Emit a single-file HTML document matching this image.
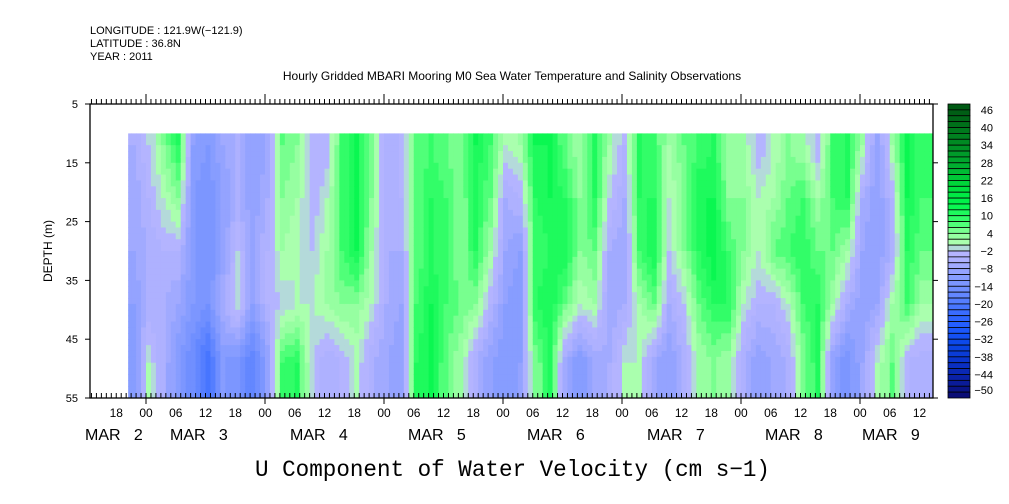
<!DOCTYPE html>
<html><head><meta charset="utf-8"><style>
body{margin:0;background:#fff;}
svg{display:block;font-family:"Liberation Sans",sans-serif;}
</style></head><body>
<svg id="chart" width="1009" height="504" viewBox="0 0 1009 504" xmlns="http://www.w3.org/2000/svg">
<g font-size="11" fill="#000">
<text x="90" y="34">LONGITUDE : 121.9W(−121.9)</text>
<text x="90" y="47">LATITUDE : 36.8N</text>
<text x="90" y="60">YEAR : 2011</text>
</g>
<text x="512" y="80" font-size="12" text-anchor="middle">Hourly Gridded MBARI Mooring M0 Sea Water Temperature and Salinity Observations</text>
<g id="heat"></g>
<g id="axes"></g>
<g id="cbar"></g>
<text transform="translate(52,251) rotate(-90)" font-size="12" text-anchor="middle">DEPTH (m)</text>
<text x="255" y="476" font-family="Liberation Mono, monospace" font-size="23" textLength="515" lengthAdjust="spacingAndGlyphs">U Component of Water Velocity (cm s−1)</text>
</svg>
<script>
// Data: column centre times (hours from first 00 tick), every 3 h, and values at depth levels
const depthLevels = [12, 21, 30, 39, 49];
const colStart = -4, colStep = 3;
const values = [
[-4,-6,-6,-8,-10],[0,-2,-4,-4,2],[6,2,-2,-4,-4],[12,6,-2,-6,-10],[-8,-10,-10,-10,-14],
[-10,-12,-12,-12,-20],[-6,-8,-8,-4,-10],[-4,-4,0,2,-12],[-8,-8,-6,-8,-16],[-6,-4,-2,-2,-8],
[8,6,4,0,10],[6,4,2,2,12],[-2,-2,0,2,0],[-2,2,4,4,-4],[10,10,10,6,-2],
[14,14,14,6,2],[6,6,4,2,-4],[-4,-4,-4,-4,-6],[-2,-2,-4,-6,-8],[8,8,8,10,12],
[10,12,12,14,14],[8,10,10,10,8],[6,6,6,8,4],[14,12,12,6,-4],[10,8,4,-2,-8],
[2,-4,-6,-8,-10],[4,-2,-8,-10,-8],[14,12,10,12,6],[14,14,12,14,12],[8,12,14,8,-6],
[4,6,6,2,-10],[12,12,8,4,-6],[4,0,-4,-6,-4],[-2,-4,-6,-4,2],[12,12,10,4,2],
[10,12,14,8,-6],[4,2,0,-4,-8],[8,6,6,0,-4],[10,14,12,8,4],[12,14,16,12,6],
[4,6,10,12,4],[4,6,6,2,-4],[-2,2,2,-2,-8],[2,4,8,-2,-6],[6,8,10,2,-4],
[4,10,12,10,6],[-2,4,8,12,12],[10,10,8,4,-8],[12,12,4,-4,-12],[4,-4,-6,-8,-6],
[-8,-8,-8,-6,2],[4,-2,-4,4,8],[14,14,12,10,-2],[10,10,8,4,-4]
];
const depthTicks = [5, 15, 25, 35, 45, 55];
const cbarLabels = [46,40,34,28,22,16,10,4,-2,-8,-14,-20,-26,-32,-38,-44,-50];
const hourLabels = ["18","00","06","12"];
const dateLabels = ["MAR  2","MAR  3","MAR  4","MAR  5","MAR  6","MAR  7","MAR  8","MAR  9"];
const dateX = [85,170,290,408,527,647,765,862];

const NS="http://www.w3.org/2000/svg";
const L=90,R=933,T=104,B=398,tEnd=158.7,tStart=-3.6;
const xS=t=>146+t*119/24;
const yS=d=>T+(d-5)*(B-T)/50;
function mk(tag,attrs,parent){const e=document.createElementNS(NS,tag);for(const k in attrs)e.setAttribute(k,attrs[k]);parent.appendChild(e);return e;}
const stops=[[-50,[10,10,110]],[-44,[10,30,160]],[-38,[10,50,200]],[-32,[10,70,230]],[-26,[30,90,255]],[-20,[64,112,255]],[-14,[106,140,255]],[-8,[141,160,255]],[-2,[180,180,255]],[0,[180,180,255]],[2,[180,255,180]],[6,[140,255,154]],[10,[60,255,110]],[16,[0,245,75]],[22,[0,220,60]],[28,[0,180,50]],[34,[0,150,40]],[40,[0,125,30]],[48,[0,90,20]]];
function col(v){v=Math.max(-49,Math.min(49,v));const b=Math.floor(v/2)*2+1;let c=stops[stops.length-1][1];
 for(let i=0;i<stops.length-1;i++){if(b>=stops[i][0]&&b<=stops[i+1][0]){const f=(b-stops[i][0])/(stops[i+1][0]-stops[i][0]||1);c=stops[i][1].map((x,j)=>Math.round(x+(stops[i+1][1][j]-x)*f));break;}}
 return `rgb(${c[0]},${c[1]},${c[2]})`;}
function profile(cv,dc){
 if(dc<=depthLevels[0])return cv[0];
 if(dc>=depthLevels[depthLevels.length-1])return cv[cv.length-1];
 for(let k=0;k<depthLevels.length-1;k++){if(dc>=depthLevels[k]&&dc<=depthLevels[k+1]){const f=(dc-depthLevels[k])/(depthLevels[k+1]-depthLevels[k]);return cv[k]+(cv[k+1]-cv[k])*f;}}
 return 0;}
function valueAt(t,dc){
 const p=(t-(colStart+colStep/2))/colStep;
 let i0=Math.floor(p);let f=p-i0;
 if(i0<0){i0=0;f=0;} if(i0>=values.length-1){i0=values.length-1;f=0;}
 const i1=Math.min(values.length-1,i0+1);
 return profile(values[i0],dc)*(1-f)+profile(values[i1],dc)*f;}
// heatmap (rendered hourly, 1 m strips)
const heat=document.getElementById('heat');
for(let t=Math.floor(tStart);t<tEnd;t+=1){
 const t0=Math.max(tStart,t),t1=Math.min(tEnd,t+1);
 for(let d=10;d<55;d+=1){
  const v=valueAt(t+0.5,d+0.5);
  const r=mk('rect',{x:xS(t0),y:yS(d),width:xS(t1)-xS(t0)+0.5,height:yS(d+1)-yS(d)+0.5,fill:col(v)},heat);
  
  
 }
}
// axes
const ax=document.getElementById('axes');
const frame=mk('rect',{x:L,y:T,width:R-L,height:B-T,fill:'none',stroke:'#000','stroke-width':1.3},ax);


for(let h=-11;h<=158;h++){
 const x=xS(h);if(x<L||x>R)continue;const maj=((h%24)+24)%24===0;
 mk('line',{x1:x,x2:x,y1:T,y2:T-(maj?10:5),stroke:'#000'},ax);
 mk('line',{x1:x,x2:x,y1:B-5,y2:B+(maj?6:0),stroke:'#000'},ax);
}
for(let h=-6;h<=156;h+=6){
 const lab=hourLabels[((h/6)%4+4+1)%4];
 const tx=mk('text',{x:xS(h),y:417,'font-size':12,'text-anchor':'middle'},ax);tx.textContent=lab;
 
 
}
dateLabels.forEach((s,i)=>{const tx=mk('text',{x:dateX[i],y:440,'font-size':16},ax);tx.textContent=s.replace('  ','\u00a0\u00a0\u00a0');
 
 });
depthTicks.forEach(d=>{const y=yS(d);
 mk('line',{x1:L-5,x2:L,y1:y,y2:y,stroke:'#000'},ax);mk('line',{x1:R,x2:R+5,y1:y,y2:y,stroke:'#000'},ax);
 const tx=mk('text',{x:L-12,y:y+4,'font-size':11,'text-anchor':'end'},ax);tx.textContent=d;
 
 });
// colorbar
const cb=document.getElementById('cbar');
const cx=948,cw=22,nb=50,bh=(B-T)/nb;
for(let i=0;i<nb;i++){const v=48-2*i+1;
 const r=mk('rect',{x:cx,y:T+i*bh,width:cw,height:bh,fill:col(v),stroke:'#000','stroke-width':0.8},cb);
 
 }
cbarLabels.forEach(v=>{const y=T+(48-v)/2*bh+(v===-50?-2:0);
 const tx=mk('text',{x:993,y:y+4,'font-size':11,'text-anchor':'end'},cb);tx.textContent=String(v).replace('-','−');
 
 });
</script>
</body></html>
